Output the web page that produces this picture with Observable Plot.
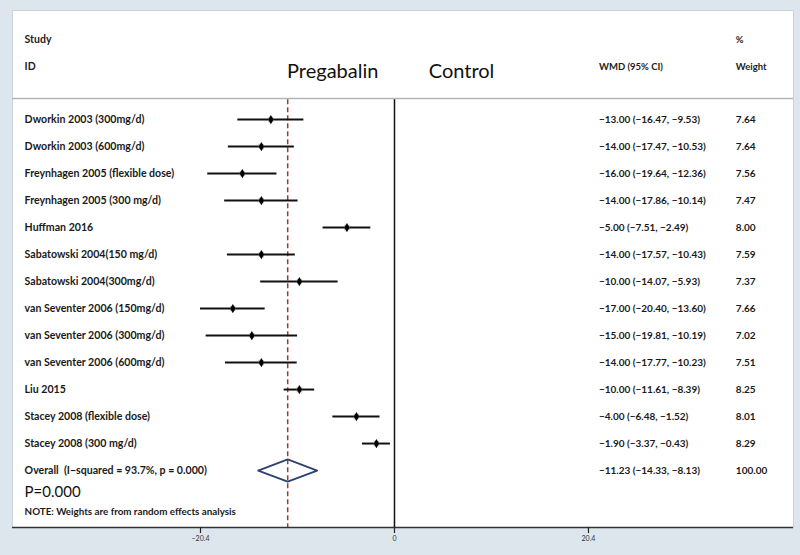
<!DOCTYPE html>
<html>
<head>
<meta charset="utf-8">
<script src="https://cdn.jsdelivr.net/npm/d3@7"></script>
<script src="https://cdn.jsdelivr.net/npm/@observablehq/plot@0.6"></script>
<style>
  html, body { margin: 0; padding: 0; background: #dde6ec; }
  #chart { width: 800px; height: 555px; }
</style>
</head>
<body>
<div id="chart"></div>
<script>
const studies = [
  "Dworkin 2003 (300mg/d)",
  "Dworkin 2003 (600mg/d)",
  "Freynhagen 2005 (flexible dose)",
  "Freynhagen 2005 (300 mg/d)",
  "Huffman 2016",
  "Sabatowski 2004(150 mg/d)",
  "Sabatowski 2004(300mg/d)",
  "van Seventer 2006 (150mg/d)",
  "van Seventer 2006 (300mg/d)",
  "van Seventer 2006 (600mg/d)",
  "Liu 2015",
  "Stacey 2008 (flexible dose)",
  "Stacey 2008 (300 mg/d)"
];
const est = [-13.00, -14.00, -16.00, -14.00, -5.00, -14.00, -10.00, -17.00, -15.00, -14.00, -10.00, -4.00, -1.90];
const lo  = [-16.47, -17.47, -19.64, -17.86, -7.51, -17.57, -14.07, -20.40, -19.81, -17.77, -11.61, -6.48, -3.37];
const hi  = [-9.53, -10.53, -12.36, -10.14, -2.49, -10.43, -5.93, -13.60, -10.19, -10.23, -8.39, -1.52, -0.43];
const weights = [7.64, 7.64, 7.56, 7.47, 8.00, 7.59, 7.37, 7.66, 7.02, 7.51, 8.25, 8.01, 8.29];

const overallLabel = "Overall  (I\u2212squared = 93.7%, p = 0.000)";
const overallEst = -11.23;
const overallLo = -14.33;
const overallHi = -8.13;
const overallWeight = 100.00;

const xTicks = [-20.4, 0, 20.4];
const xTickLabels = ["\u221220.4", "0", "20.4"];

const fmt = v => v.toFixed(2).replace("-", "\u2212");

const rows = studies.map((s, i) => ({
  study: s, row: i, est: est[i], lo: lo[i], hi: hi[i], w: weights[i],
  ci: `${fmt(est[i])} (${fmt(lo[i])}, ${fmt(hi[i])})`,
  wt: weights[i].toFixed(2)
}));
const oRow = studies.length;
const overall = {
  study: overallLabel, row: oRow, est: overallEst, lo: overallLo, hi: overallHi,
  ci: `${fmt(overallEst)} (${fmt(overallLo)}, ${fmt(overallHi)})`,
  wt: overallWeight.toFixed(2)
};
const diamond = [
  {x: overallLo, y: oRow},
  {x: overallEst, y: oRow - 0.41},
  {x: overallHi, y: oRow},
  {x: overallEst, y: oRow + 0.41},
  {x: overallLo, y: oRow}
];

const yTop = -4.04, yBottom = 15.11, ySep = -0.78;
const font = "Lato, 'Open Sans', sans-serif";
const xLabel = -38.9, xCI = 21.5, xWt = 35.9;

const chart = Plot.plot({
  width: 800,
  height: 555,
  marginLeft: 12,
  marginRight: 7,
  marginTop: 10,
  marginBottom: 28,
  style: {background: "#dde6ec", fontFamily: font},
  x: {domain: [-40.17, 41.96], ticks: xTicks},
  y: {domain: [yTop, yBottom], reverse: true, axis: null},
  marks: [
    Plot.frame({fill: "white", stroke: "#c9d3da"}),
    // header separator
    Plot.ruleY([ySep], {stroke: "#b5b5b5", strokeWidth: 1.5}),
    // headers
    Plot.text(["Study"], {x: xLabel, y: -2.96, text: d => d, textAnchor: "start", fontSize: 10.5, fontWeight: "bold", fill: "#222"}),
    Plot.text(["ID"], {x: xLabel, y: -1.96, text: d => d, textAnchor: "start", fontSize: 10.5, fontWeight: "bold", fill: "#222"}),
    Plot.text(["Pregabalin"], {x: -11.3, y: -1.76, text: d => d, textAnchor: "start", fontSize: 20, fill: "#111"}),
    Plot.text(["Control"], {x: 3.6, y: -1.76, text: d => d, textAnchor: "start", fontSize: 20, fill: "#111"}),
    Plot.text(["WMD (95% CI)"], {x: xCI, y: -1.96, text: d => d, textAnchor: "start", fontSize: 9.5, fontWeight: "bold", fill: "#222"}),
    Plot.text(["%"], {x: xWt, y: -2.96, text: d => d, textAnchor: "start", fontSize: 9.5, fontWeight: "bold", fill: "#222"}),
    Plot.text(["Weight"], {x: xWt, y: -1.96, text: d => d, textAnchor: "start", fontSize: 9.5, fontWeight: "bold", fill: "#222"}),
    // reference lines
    Plot.ruleX([0], {y1: ySep + 0.05, y2: yBottom, stroke: "#111", strokeWidth: 1.5}),
    Plot.ruleX([overallEst], {y1: ySep + 0.05, y2: yBottom, stroke: "#b03232", strokeWidth: 1.5, strokeDasharray: "5,3"}),
    // study CIs
    Plot.ruleY(rows, {y: "row", x1: "lo", x2: "hi", stroke: "#111", strokeWidth: 2}),
    Plot.dot(rows, {x: "est", y: "row", symbol: "square", r: d => d.w * 0.5, fill: "#9a9a9a", fillOpacity: 0.6}),
    Plot.dot(rows, {x: "est", y: "row", symbol: "diamond", r: 2.8, fill: "#000"}),
    // overall diamond
    Plot.line(diamond, {x: "x", y: "y", stroke: "#2d4170", strokeWidth: 1.8}),
    // text columns
    Plot.text([...rows, overall], {x: xLabel, y: "row", text: "study", textAnchor: "start", fontSize: 10.6, fill: "#1a1a1a", fontWeight: "bold"}),
    Plot.text([...rows, overall], {x: xCI, y: "row", text: "ci", textAnchor: "start", fontSize: 10, fill: "#1a1a1a", fontWeight: "bold"}),
    Plot.text([...rows, overall], {x: xWt, y: "row", text: "wt", textAnchor: "start", fontSize: 10, fill: "#1a1a1a", fontWeight: "bold"}),
    Plot.text(["P=0.000"], {x: xLabel, y: 13.81, text: d => d, textAnchor: "start", fontSize: 15, fill: "#111"}),
    Plot.text(["NOTE: Weights are from random effects analysis"], {x: xLabel, y: 14.52, text: d => d, textAnchor: "start", fontSize: 9.8, fill: "#1a1a1a", fontWeight: "bold"}),
    // axis
    Plot.ruleY([yBottom], {stroke: "#333", strokeWidth: 1.6}),
    Plot.axisX(xTicks, {tickSize: 6, tickPadding: 3, fontSize: 7, stroke: "#222", fill: "#333", strokeWidth: 1.2,
      tickFormat: (d, i) => xTickLabels[xTicks.indexOf(d)]})
  ]
});
document.getElementById("chart").appendChild(chart);
</script>
</body>
</html>
